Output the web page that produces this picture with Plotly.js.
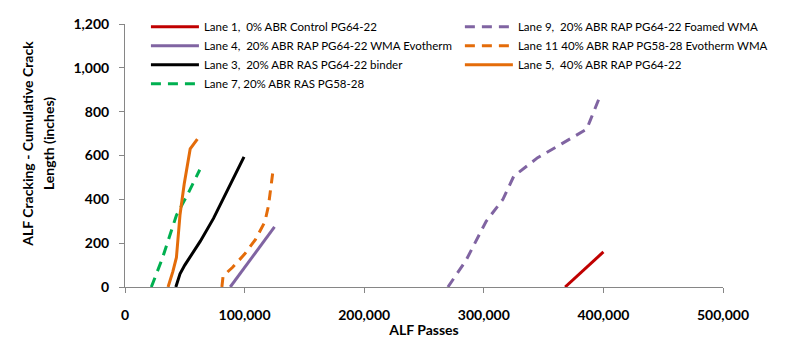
<!DOCTYPE html>
<html>
<head>
<meta charset="utf-8">
<script src="https://cdn.plot.ly/plotly-3.0.1.min.js"></script>
<style>
  html, body { margin: 0; padding: 0; background: #fff; }
  #chart { width: 785px; height: 338px; }
</style>
</head>
<body>
<div id="chart"></div>
<script>
// ALF passes (x) and cumulative crack length in inches (y) for each lane
const lane1X  = [368000, 400000];
const lane1Y  = [0, 160];
const lane4X  = [88000, 125000];
const lane4Y  = [0, 274];
const lane3X  = [42500, 46000, 50000, 63000, 74000, 99500];
const lane3Y  = [0, 60, 100, 209, 313, 594];
const lane7X  = [22000, 31000, 43000, 52500, 62500];
const lane7Y  = [0, 127, 327, 424, 535];
const lane9X  = [270000, 285000, 302000, 316000, 325000, 345000, 365000, 386000, 389000, 396000];
const lane9Y  = [0, 120, 300, 400, 505, 590, 653, 720, 760, 855];
const lane11X = [81000, 82000, 90000, 100000, 109000, 117000, 120000, 123500];
const lane11Y = [0, 50, 90, 150, 216, 298, 372, 520];
const lane5X  = [36000, 40000, 43000, 46000, 49500, 54500, 60500];
const lane5Y  = [0, 70, 135, 330, 470, 630, 675];

const laneNames = {
  lane1:  'Lane 1,  0% ABR Control PG64-22',
  lane4:  'Lane 4,  20% ABR RAP PG64-22 WMA Evotherm',
  lane3:  'Lane 3,  20% ABR RAS PG64-22 binder',
  lane7:  'Lane 7, 20% ABR RAS PG58-28',
  lane9:  'Lane 9,  20% ABR RAP PG64-22 Foamed WMA',
  lane11: 'Lane 11 40% ABR RAP PG58-28 Evotherm WMA',
  lane5:  'Lane 5,  40% ABR RAP PG64-22'
};

const xTickVals = [0, 100000, 200000, 300000, 400000, 500000];
const xTickText = ['0', '100,000', '200,000', '300,000', '400,000', '500,000'];
const yTickVals = [0, 200, 400, 600, 800, 1000, 1200];
const yTickText = ['0', '200', '400', '600', '800', '1,000', '1,200'];
const xTitle = 'ALF Passes';
const yTitleLines = ['ALF Cracking - Cumulative Crack', 'Length (inches)'];

const RED = '#C00000', PURPLE = '#8064A2', BLACK = '#000000',
      GREEN = '#00B050', ORANGE = '#E46C0A';
const DASH = '10px,7px';

function lane(x, y, name, color, dash, legend) {
  return {
    x: x, y: y, name: name, type: 'scatter', mode: 'lines',
    line: { color: color, width: 3, dash: dash || 'solid' },
    legend: legend, hoverinfo: 'skip'
  };
}

const data = [
  lane(lane1X,  lane1Y,  laneNames.lane1,  RED,    null, 'legend'),
  lane(lane4X,  lane4Y,  laneNames.lane4,  PURPLE, null, 'legend'),
  lane(lane3X,  lane3Y,  laneNames.lane3,  BLACK,  null, 'legend'),
  lane(lane7X,  lane7Y,  laneNames.lane7,  GREEN,  DASH, 'legend'),
  lane(lane9X,  lane9Y,  laneNames.lane9,  PURPLE, DASH, 'legend2'),
  lane(lane11X, lane11Y, laneNames.lane11, ORANGE, DASH, 'legend2'),
  lane(lane5X,  lane5Y,  laneNames.lane5,  ORANGE, null, 'legend2')
];

const FONT = 'Lato, "Open Sans", sans-serif';
const AXIS_GREY = '#868686';
const boldFont = { family: FONT, size: 14, color: '#000', weight: 'bold' };

const legendCommon = {
  orientation: 'v', bgcolor: 'rgba(0,0,0,0)', borderwidth: 0,
  font: { family: FONT, size: 11.5, color: '#000' },
  itemwidth: 48, tracegroupgap: 0,
  xanchor: 'left', yanchor: 'top', yref: 'paper', xref: 'paper',
  itemclick: false, itemdoubleclick: false
};

// Two-line vertical axis title with wider line spacing
const yTitleAnnotations = yTitleLines.map(function (t, i) {
  return {
    text: t, xref: 'paper', yref: 'paper',
    x: i === 0 ? -0.162 : -0.128, y: 0.545,
    xanchor: 'center', yanchor: 'middle',
    textangle: -90, showarrow: false, font: boldFont
  };
});

const layout = {
  width: 785, height: 338,
  margin: { l: 125, r: 40, t: 17, b: 51 },
  paper_bgcolor: '#ffffff', plot_bgcolor: '#ffffff',
  font: { family: FONT, color: '#000' },
  showlegend: true,
  legend:  Object.assign({}, legendCommon, { x: 0.035, y: 1.045 }),
  legend2: Object.assign({}, legendCommon, { x: 0.56, y: 1.045 }),
  annotations: yTitleAnnotations,
  xaxis: {
    range: [0, 500000], tickvals: xTickVals, ticktext: xTickText,
    showgrid: false, zeroline: false,
    showline: true, linecolor: AXIS_GREY, linewidth: 1,
    ticks: 'outside', ticklen: 5, tickcolor: AXIS_GREY,
    ticklabelstandoff: 10,
    tickfont: boldFont,
    title: { text: xTitle, font: boldFont, standoff: 0 }
  },
  yaxis: {
    range: [0, 1200], tickvals: yTickVals, ticktext: yTickText,
    showgrid: false, zeroline: false,
    showline: true, linecolor: AXIS_GREY, linewidth: 1,
    ticks: 'outside', ticklen: 5, tickcolor: AXIS_GREY,
    ticklabelstandoff: 7,
    tickfont: boldFont
  }
};

Plotly.newPlot('chart', data, layout, { staticPlot: true, displayModeBar: false });
</script>
</body>
</html>
